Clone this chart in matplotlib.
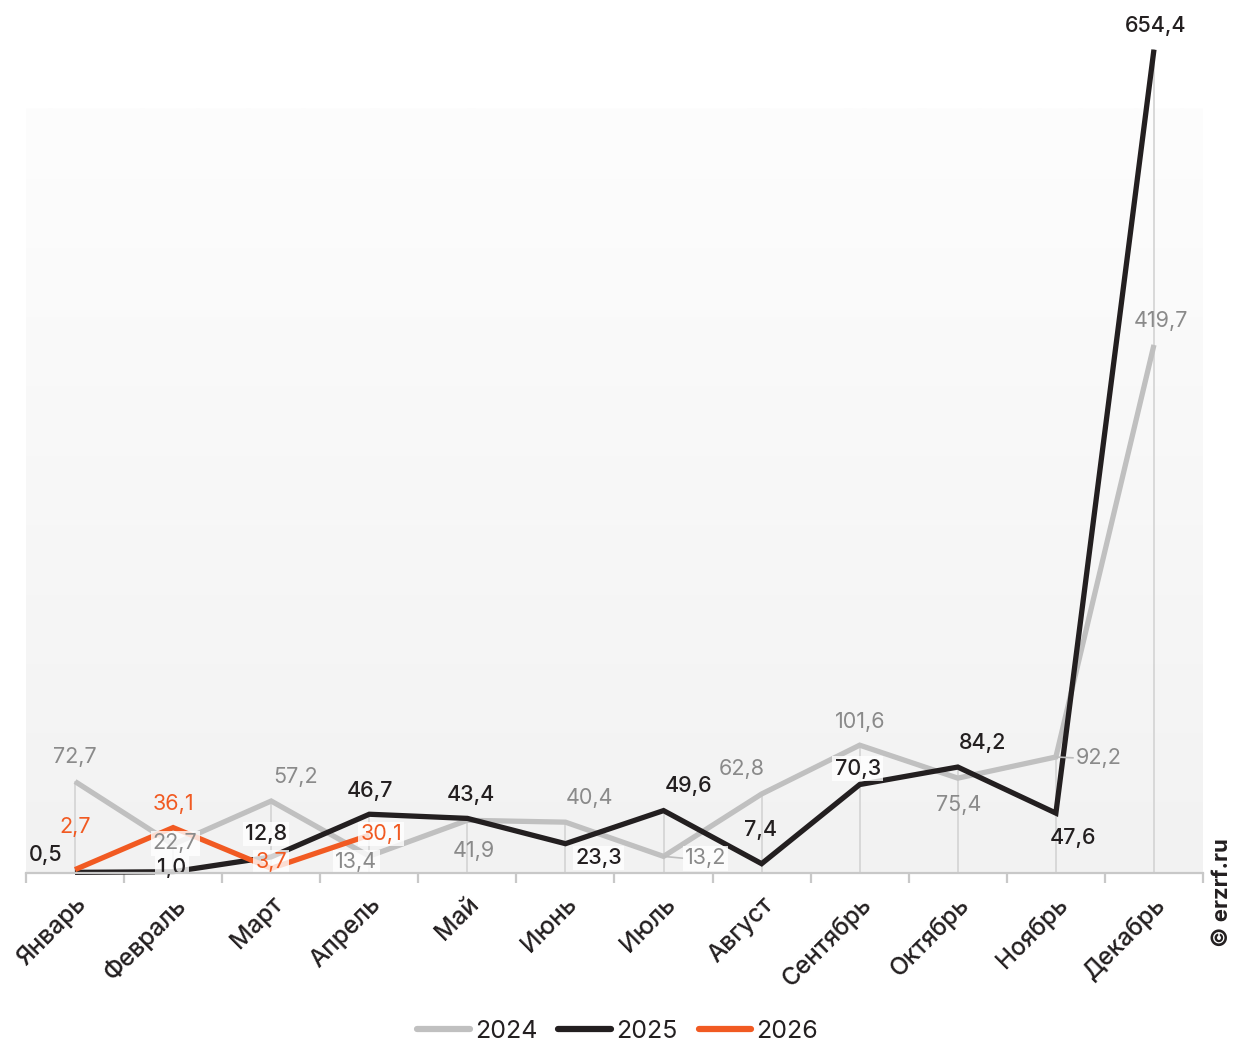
import matplotlib
matplotlib.use("Agg")
import matplotlib.pyplot as plt
import numpy as np
from matplotlib.lines import Line2D

plt.rcParams['font.family'] = ['Inter', 'DejaVu Sans']

months = ["Январь", "Февраль", "Март", "Апрель", "Май", "Июнь", "Июль",
          "Август", "Сентябрь", "Октябрь", "Ноябрь", "Декабрь"]
s2024 = [72.7, 22.7, 57.2, 13.4, 41.9, 40.4, 13.2, 62.8, 101.6, 75.4, 92.2, 419.7]
s2025 = [0.5, 1.0, 12.8, 46.7, 43.4, 23.3, 49.6, 7.4, 70.3, 84.2, 47.6, 654.4]
s2026 = [2.7, 36.1, 3.7, 30.1]
series_names = ["2024", "2025", "2026"]

# styling
line_colors = ["#c0c0c0", "#231f20", "#f15a22"]
label_colors = ["#8a8a8a", "#231f20", "#f15a22"]
label_weights = ["normal", "medium", "normal"]
# label offsets in pixels (dx, dy)
off2024 = [(0, 25), (2, 1), (24, 24), (-13, -6), (7, -31), (24, 24), (42, -2),
           (-20, 25), (1, 23), (1, -27), (43, -1), (7, 24)]
off2025 = [(-29, 17), (-1, 4), (-5, 23), (1, 23), (3, 23), (33, -14), (25, 25),
           (-1, 34), (-2, 16), (25, 24), (17, -25), (2, 24)]
off2026 = [(0, 43), (0, 24), (0, 6), (12, 1)]
box2024 = [1, 3, 6]
box2025 = [1, 2, 5, 8]
box2026 = [2, 3]
leader2024 = [6, 10]

W, H = 1235, 1043
fig = plt.figure(figsize=(W / 100, H / 100), dpi=100)
left, right = 26 / W, 1203 / W
bottom, top = (H - 873) / H, (H - 108) / H
ax = fig.add_axes([left, bottom, right - left, top - bottom])

x = np.arange(len(months))
ax.set_xlim(-0.5, len(months) - 0.5)
ax.set_ylim(0, 608)

# gradient background
grad = np.linspace(0, 1, 256).reshape(-1, 1)
c_top = np.array([0xfd, 0xfd, 0xfd]) / 255
c_bot = np.array([0xf2, 0xf2, 0xf2]) / 255
img = c_bot[None, None, :] * (1 - grad[..., None]) + c_top[None, None, :] * grad[..., None]
ax.imshow(img, extent=[0, 1, 0, 1], transform=ax.transAxes, aspect='auto',
          origin='lower', zorder=0)

# drop lines
all_series = [s2024, s2025, s2026]
for i in range(len(months)):
    mx = max(s[i] for s in all_series if i < len(s))
    ax.plot([x[i], x[i]], [0, mx], color="#d6d6d6", lw=1.3, zorder=1, clip_on=False)

lw = 3.8
for s, c, z in zip(all_series, line_colors, [2, 3, 4]):
    ax.plot(x[:len(s)], s, color=c, lw=lw, zorder=z, clip_on=False,
            solid_joinstyle='miter', solid_capstyle='butt')

def fmt(v):
    return f"{v:.1f}".replace(".", ",")

fs = 15.5
for s, offs, col, wt, boxes, z in [(s2024, off2024, label_colors[0], label_weights[0], box2024, 5),
                                   (s2025, off2025, label_colors[1], label_weights[1], box2025, 6),
                                   (s2026, off2026, label_colors[2], label_weights[2], box2026, 7)]:
    for i, v in enumerate(s):
        kw = {}
        if i in boxes:
            kw['bbox'] = dict(boxstyle='square,pad=0.1', fc='white', ec='none', alpha=0.8)
        if s is s2024 and i in leader2024:
            kw['arrowprops'] = dict(arrowstyle='-', color='#bdbdbd', lw=1.2,
                                    shrinkA=0, shrinkB=0, relpos=(0, 0.5))
        ax.annotate(fmt(v), (x[i], v), xytext=offs[i], textcoords='offset pixels',
                    ha='center', va='center', fontsize=fs, color=col, zorder=z,
                    fontweight=wt, annotation_clip=False, **kw)

# axes styling
for sp in ['top', 'right', 'left']:
    ax.spines[sp].set_visible(False)
ax.spines['bottom'].set_color('#c8c8c8')
ax.spines['bottom'].set_linewidth(1.6)
ax.spines['bottom'].set_zorder(8)
ax.set_yticks([])
ax.set_xticks(np.arange(-0.5, len(months) + 0.5, 1))
ax.set_xticklabels([])
ax.tick_params(axis='x', length=7, width=1.6, color='#c8c8c8')
ax.set_xticks(x, minor=True)
ax.set_xticklabels(months, minor=True, rotation=45, ha='right', va='top',
                   rotation_mode='anchor', fontsize=17.5, color='#231f20',
                   fontweight='medium')
ax.tick_params(axis='x', which='minor', length=0, pad=14)

# copyright
fig.text(1222 / W, 1 - 893 / H, "© erzrf.ru", rotation=90, ha='center', va='center',
         fontsize=16, fontweight='bold', color='#231f20')

handles = [Line2D([0], [0], color=c, lw=4.5, solid_capstyle='round') for c in line_colors]
fig.legend(handles, series_names, loc='center', bbox_to_anchor=(0.5, 1 - 1031 / H),
           ncol=3, frameon=False, fontsize=18, handlelength=2.1, handletextpad=0.2,
           columnspacing=0.85, labelcolor='#231f20')

fig.savefig("out.png", dpi=100, facecolor='white')
